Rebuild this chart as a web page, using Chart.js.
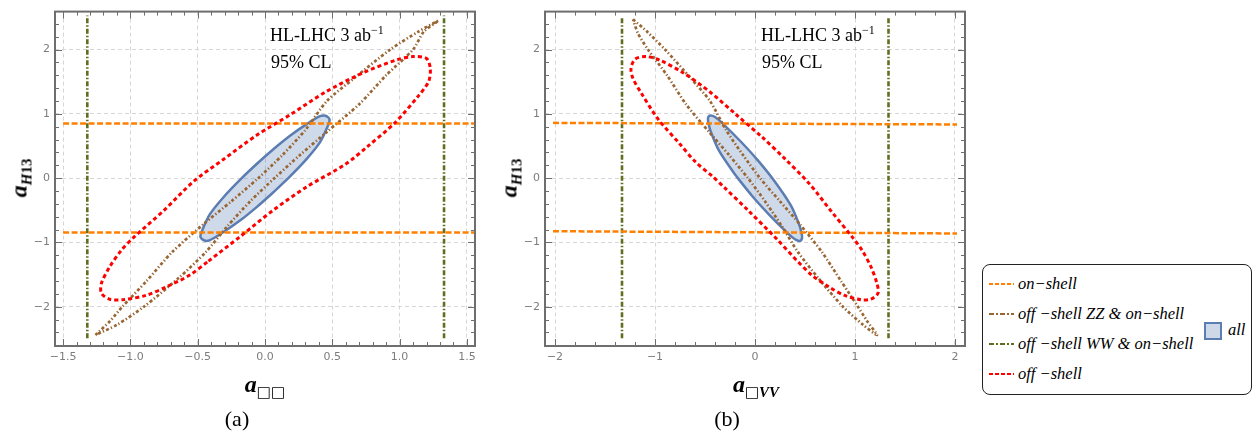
<!DOCTYPE html>
<html>
<head>
<meta charset="utf-8">
<script src="https://cdn.jsdelivr.net/npm/chart.js@4.4.1/dist/chart.umd.min.js"></script>
<style>
  html, body { margin: 0; padding: 0; background: #fff; }
  body { width: 1256px; height: 432px; position: relative; overflow: hidden; font-family: "Liberation Serif", serif; }
  canvas { position: absolute; top: 0; }
  #chartA { left: 0; }
  #chartB { left: 490px; }
  .t { position: absolute; white-space: nowrap; color: #000; line-height: 18px; font-size: 18px; font-family: "Liberation Serif", serif; }
  .t sup { font-size: 12px; vertical-align: 7px; line-height: 0; }
  .cap { font-size: 22px; line-height: 22px; transform: translateX(-50%); }
  .ax { line-height: 22px; transform: translateX(-50%); }
  .ax.rot { transform: translate(-50%, -50%) rotate(-90deg); }
  .a { font: bold italic 24px "Liberation Serif", serif; }
  .sub { font: bold 15px "Liberation Serif", serif; position: relative; top: 5px; }
  .sq { font: 15px "DejaVu Sans", sans-serif; position: relative; top: 5px; }
  #legend { position: absolute; left: 982px; top: 264px; width: 268px; height: 129px; border: 1.6px solid #222; border-radius: 8px; }
  .row { position: absolute; left: 5px; height: 20px; display: flex; align-items: center; font: italic 16.5px "Liberation Serif", serif; white-space: nowrap; }
  .row svg { margin-right: 4px; }
  #allBox { position: absolute; left: 221px; top: 57px; width: 14px; height: 14px; background: #cdd8e8; border: 2px solid #5b7db1; }
  #allTxt { position: absolute; left: 245px; top: 56px; font: italic 16.5px "Liberation Serif", serif; line-height: 18px; }
</style>
</head>
<body>
<canvas id="chartA" width="485" height="432"></canvas>
<canvas id="chartB" width="480" height="432"></canvas>

<div class="t" style="left:270px;top:26px">HL-LHC 3 ab<sup>−1</sup></div>
<div class="t" style="left:271px;top:53px">95% CL</div>
<div class="t" style="left:761px;top:26px">HL-LHC 3 ab<sup>−1</sup></div>
<div class="t" style="left:762px;top:53px">95% CL</div>

<div class="t ax rot" style="left:19px;top:178px"><span class="a">a</span><span class="sub"><i>H</i>13</span></div>
<div class="t ax rot" style="left:509px;top:178px"><span class="a">a</span><span class="sub"><i>H</i>13</span></div>
<div class="t ax" style="left:265px;top:371px"><span class="a">a</span><span class="sq">□□</span></div>
<div class="t ax" style="left:756px;top:371px"><span class="a">a</span><span class="sq">□</span><span class="sub"><i>VV</i></span></div>

<div class="t cap" style="left:237px;top:408px">(a)</div>
<div class="t cap" style="left:727px;top:408px">(b)</div>

<div id="legend">
  <div class="row" style="top:9px"><svg width="26" height="6"><line x1="1" y1="3" x2="26" y2="3" stroke="#ff8000" stroke-width="2" stroke-dasharray="4 2"/></svg>on−shell</div>
  <div class="row" style="top:39px"><svg width="26" height="6"><line x1="1" y1="3" x2="26" y2="3" stroke="#996633" stroke-width="2" stroke-dasharray="5 2 2 2"/></svg>off −shell ZZ &amp; on−shell</div>
  <div class="row" style="top:69px"><svg width="26" height="6"><line x1="1" y1="3" x2="26" y2="3" stroke="#5f6f22" stroke-width="2" stroke-dasharray="5 2 2 2"/></svg>off −shell WW &amp; on−shell</div>
  <div class="row" style="top:99px"><svg width="26" height="6"><line x1="1" y1="3" x2="26" y2="3" stroke="#ff0000" stroke-width="2" stroke-dasharray="4 2"/></svg>off −shell</div>
  <div id="allBox"></div>
  <div id="allTxt">all</div>
</div>

<script>
// tick labels
const xTicksA = [-1.5, -1, -0.5, 0, 0.5, 1, 1.5];
const xTicksB = [-2, -1, 0, 1, 2];
const yTicks = [-2, -1, 0, 1, 2];

// (a) a_BoxBox vs a_H13
const onShellA1 = [[-1.5, 0.85], [1.56, 0.85]];
const onShellA2 = [[-1.5, -0.845], [1.56, -0.845]];
const wwA1 = [[-1.32, -2.49], [-1.32, 2.53]];
const wwA2 = [[1.33, -2.49], [1.33, 2.53]];
const zzA = [
  [-1.26, -2.44], [-1.15, -2.22], [-1.06, -2.0], [-0.88, -1.6], [-0.69, -1.15], [-0.46, -0.72],
  [-0.25, -0.36], [-0.05, 0.0], [0.13, 0.36], [0.3, 0.75], [0.46, 1.2], [0.66, 1.55], [0.93, 2.0],
  [1.14, 2.28], [1.29, 2.45], [1.18, 2.28], [1.1, 2.0], [0.9, 1.6], [0.7, 1.15], [0.46, 0.72],
  [0.26, 0.36], [0.07, 0.0], [-0.11, -0.36], [-0.28, -0.75], [-0.44, -1.15], [-0.64, -1.55],
  [-0.9, -2.0], [-1.1, -2.28], [-1.26, -2.44]
];
const offShellA = [
  [-0.42, -1.29], [-0.186, -0.911], [0.062, -0.497], [0.31, -0.135], [0.6, 0.22], [0.76, 0.49],
  [0.96, 0.85], [1.14, 1.28], [1.215, 1.5], [1.228, 1.7], [1.2, 1.86], [1.1, 1.89], [0.98, 1.84],
  [0.73, 1.64], [0.45, 1.34], [0.19, 0.99], [-0.06, 0.67], [-0.31, 0.29], [-0.53, -0.05],
  [-0.75, -0.5], [-0.98, -0.93], [-1.066, -1.118], [-1.153, -1.377], [-1.215, -1.635],
  [-1.215, -1.79], [-1.153, -1.884], [-1.054, -1.89], [-0.88, -1.82], [-0.731, -1.688],
  [-0.558, -1.506], [-0.42, -1.29]
];
const allA = [
  [0.062, -0.22], [0.186, 0.027], [0.31, 0.3], [0.409, 0.56], [0.46, 0.78], [0.48, 0.91],
  [0.45, 0.97], [0.409, 0.963], [0.31, 0.84], [0.186, 0.66], [0.062, 0.45], [-0.062, 0.22],
  [-0.186, -0.027], [-0.31, -0.3], [-0.409, -0.56], [-0.46, -0.78], [-0.48, -0.91],
  [-0.45, -0.97], [-0.409, -0.963], [-0.31, -0.84], [-0.186, -0.66], [-0.062, -0.45], [0.062, -0.22]
];

// (b) a_BoxVV vs a_H13
const onShellB1 = [[-2.02, 0.86], [2.02, 0.835]];
const onShellB2 = [[-2.02, -0.825], [2.02, -0.86]];
const wwB1 = [[-1.33, -2.49], [-1.33, 2.5]];
const wwB2 = [[1.335, -2.49], [1.335, 2.5]];
const zzB = [
  [-1.22, 2.47], [-1.08, 2.28], [-0.9, 2.0], [-0.64, 1.55], [-0.45, 1.2], [-0.29, 0.75],
  [-0.12, 0.36], [0.05, 0.0], [0.25, -0.36], [0.45, -0.72], [0.67, -1.15], [0.86, -1.6],
  [1.03, -2.0], [1.12, -2.22], [1.22, -2.44], [1.08, -2.28], [0.88, -2.0], [0.63, -1.55],
  [0.43, -1.15], [0.27, -0.75], [0.1, -0.36], [-0.07, 0.0], [-0.26, 0.36], [-0.46, 0.72],
  [-0.69, 1.15], [-0.88, 1.6], [-1.07, 2.0], [-1.17, 2.25], [-1.22, 2.47]
];
const offShellB = [
  [0.41, -1.27], [0.22, -0.95], [-0.07, -0.5], [-0.31, -0.14], [-0.42, 0.02], [-0.6, 0.26],
  [-0.756, 0.54], [-0.97, 0.92], [-1.14, 1.33], [-1.22, 1.55], [-1.24, 1.7], [-1.2, 1.85],
  [-1.09, 1.89], [-0.96, 1.84], [-0.72, 1.64], [-0.45, 1.34], [-0.19, 0.99], [0.07, 0.64],
  [0.3, 0.3], [0.54, -0.08], [0.76, -0.51], [0.98, -0.93], [1.07, -1.12], [1.16, -1.38],
  [1.22, -1.64], [1.23, -1.79], [1.16, -1.88], [1.06, -1.89], [0.89, -1.82], [0.74, -1.69],
  [0.57, -1.51], [0.41, -1.27]
];
const allB = [
  [-0.19, 0.035], [-0.024, -0.285], [0.143, -0.57], [0.31, -0.83], [0.4, -0.95], [0.45, -0.975],
  [0.47, -0.93], [0.465, -0.85], [0.44, -0.715], [0.357, -0.42], [0.19, -0.035], [0.024, 0.285],
  [-0.143, 0.57], [-0.31, 0.83], [-0.4, 0.95], [-0.45, 0.975], [-0.47, 0.93], [-0.465, 0.85],
  [-0.44, 0.715], [-0.357, 0.42], [-0.19, 0.035]
];

const ORANGE = '#ff8000', RED = '#ff0000', BROWN = '#996633', OLIVE = '#5f6f22', BLUE = '#5b7db1';

const pts = a => a.map(([x, y]) => ({ x, y }));

function line(data, color, width, dash, tension) {
  return {
    data: pts(data), showLine: true, fill: false,
    borderColor: color, borderWidth: width, borderDash: dash,
    tension: tension || 0, pointRadius: 0, pointHoverRadius: 0
  };
}

// frame with inward ticks on all four sides (Mathematica style)
const framePlugin = {
  id: 'frame',
  afterDraw(chart, args, o) {
    const { ctx, chartArea: a } = chart;
    const sx = chart.scales.x, sy = chart.scales.y;
    ctx.save();
    ctx.strokeStyle = '#6e6e6e';
    ctx.lineWidth = 1;
    const isMajor = (v, m) => Math.abs(v / m - Math.round(v / m)) < 1e-6;
    for (let i = Math.ceil(sx.min / o.xStep); i * o.xStep <= sx.max + 1e-9; i++) {
      const v = i * o.xStep, len = isMajor(v, o.xMajor) ? 7 : 4;
      const p = Math.round(sx.getPixelForValue(v)) + 0.5;
      ctx.beginPath();
      ctx.moveTo(p, a.bottom); ctx.lineTo(p, a.bottom - len);
      ctx.moveTo(p, a.top); ctx.lineTo(p, a.top + len);
      ctx.stroke();
    }
    for (let i = Math.ceil(sy.min / o.yStep); i * o.yStep <= sy.max + 1e-9; i++) {
      const v = i * o.yStep, len = isMajor(v, 1) ? 7 : 4;
      const p = Math.round(sy.getPixelForValue(v)) + 0.5;
      ctx.beginPath();
      ctx.moveTo(a.left, p); ctx.lineTo(a.left + len, p);
      ctx.moveTo(a.right, p); ctx.lineTo(a.right - len, p);
      ctx.stroke();
    }
    ctx.lineWidth = 2;
    ctx.strokeRect(a.left, a.top, a.right - a.left, a.bottom - a.top);
    ctx.restore();
  }
};

function makeChart(id, xMin, xMax, xTicks, xFmt, frameOpts, rightPad, sets) {
  const tickFont = { family: 'DejaVu Sans', size: 11 };
  return new Chart(document.getElementById(id), {
    type: 'scatter',
    data: {
      datasets: [
        line(sets.off, RED, 3, [4, 3], 0.3),
        line(sets.on1, ORANGE, 2.5, [6, 2.5]),
        line(sets.on2, ORANGE, 2.5, [6, 2.5]),
        line(sets.zz, BROWN, 2.7, [3, 2.2, 1.3, 2.2], 0.25),
        line(sets.ww1, OLIVE, 2.6, [5, 2, 1.5, 2]),
        line(sets.ww2, OLIVE, 2.6, [5, 2, 1.5, 2]),
        {
          data: pts(sets.all), showLine: true, fill: 'shape', tension: 0.3,
          borderColor: BLUE, borderWidth: 2.5, backgroundColor: 'rgba(94,129,181,0.3)',
          pointRadius: 0, pointHoverRadius: 0
        }
      ]
    },
    options: {
      responsive: false,
      animation: false,
      events: [],
      layout: { padding: { left: 0, right: rightPad, top: 11, bottom: 0 } },
      scales: {
        x: {
          type: 'linear', min: xMin, max: xMax,
          afterBuildTicks: s => { s.ticks = xTicks.map(v => ({ value: v })); },
          afterFit: s => { s.height = 86; },
          grid: { color: '#d6d6d6', lineWidth: 1, drawTicks: false },
          border: { display: false, dash: [4, 3] },
          ticks: {
            color: '#7d7d7d', font: tickFont, padding: 5, maxRotation: 0, autoSkip: false,
            callback: v => xFmt(v).replace('-', '\u2212')
          }
        },
        y: {
          type: 'linear', min: -2.61, max: 2.59,
          afterBuildTicks: s => { s.ticks = yTicks.map(v => ({ value: v })); },
          afterFit: s => { s.width = 55; },
          grid: { color: '#d6d6d6', lineWidth: 1, drawTicks: false },
          border: { display: false, dash: [4, 3] },
          ticks: {
            color: '#7d7d7d', font: tickFont, padding: 5,
            callback: v => String(v).replace('-', '\u2212')
          }
        }
      },
      plugins: {
        legend: { display: false },
        tooltip: { enabled: false },
        frame: frameOpts
      }
    },
    plugins: [framePlugin]
  });
}

makeChart('chartA', -1.56, 1.56, xTicksA, v => v.toFixed(1),
  { xStep: 0.1, xMajor: 0.5, yStep: 0.2 }, 10,
  { off: offShellA, on1: onShellA1, on2: onShellA2, zz: zzA, ww1: wwA1, ww2: wwA2, all: allA });

makeChart('chartB', -2.1, 2.1, xTicksB, v => String(v),
  { xStep: 0.2, xMajor: 1, yStep: 0.2 }, 5,
  { off: offShellB, on1: onShellB1, on2: onShellB2, zz: zzB, ww1: wwB1, ww2: wwB2, all: allB });
</script>
</body>
</html>
